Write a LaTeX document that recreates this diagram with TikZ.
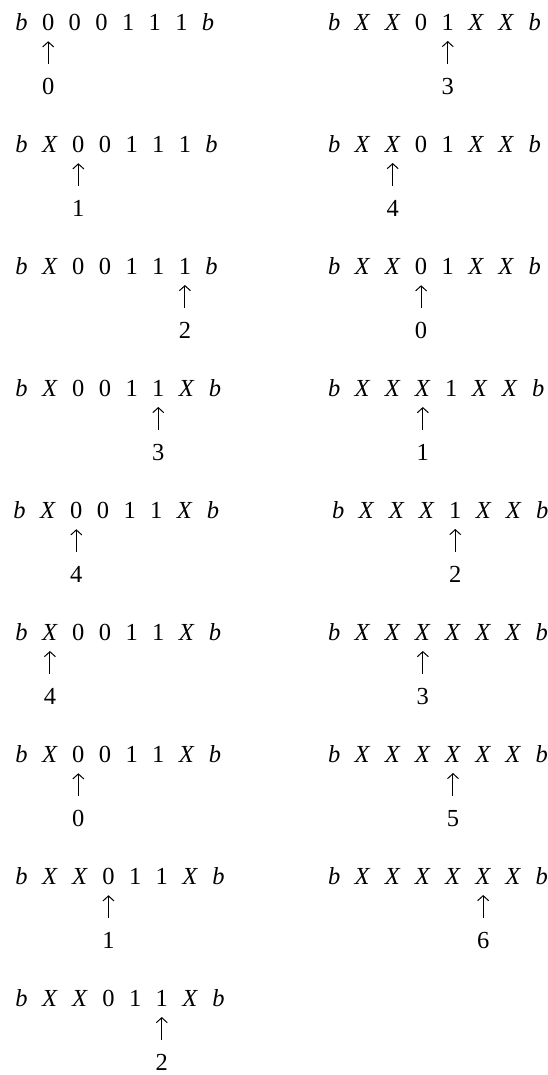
\documentclass[tikz,border=0pt]{standalone}
\usepackage{fontspec}
\setmainfont{Liberation Serif}
\usetikzlibrary{arrows.meta}
\newcommand\Bk{\textit{b}}
\newcommand\Xk{\textit{X}}
\tikzset{
  tmfont/.style={font=\fontsize{24.5bp}{30bp}\selectfont},
  cell/.style={tmfont, inner sep=0pt, outer sep=0pt, anchor=base west},
  num/.style={tmfont, inner sep=0pt, outer sep=0pt, anchor=base},
  ptr/.style={line width=1bp, -{Straight Barb[length=5bp,width=11bp]}, shorten >=11bp, shorten <=14bp}
}
% name, x, y(baseline), symbols, head index, state
\newcommand\tmrow[6]{%
  \foreach \c [count=\i] in {#4} {
    \ifnum\i=1
      \node[cell] (#1-1) at (#2,#3) {\c};
    \else
      \pgfmathtruncatemacro\p{\i-1}
      \node[cell] (#1-\i) at ([xshift=14.4bp]#1-\p.base east) {\c};
    \fi
  }
  \node[num] (#1-s) at ([yshift=-64bp]#1-#5.base) {#6};
  \draw[ptr] (#1-s) -- (#1-#5);
}
\begin{document}
\begin{tikzpicture}[x=1bp,y=-1bp]
\useasboundingbox (0,0) rectangle (548,1075);
% left column
\tmrow{L1}{15.4}{30}{\Bk,0,0,0,1,1,1,\Bk}{2}{0}
\tmrow{L2}{15.4}{152}{\Bk,\Xk,0,0,1,1,1,\Bk}{3}{1}
\tmrow{L3}{15.4}{274}{\Bk,\Xk,0,0,1,1,1,\Bk}{7}{2}
\tmrow{L4}{15.4}{396}{\Bk,\Xk,0,0,1,1,\Xk,\Bk}{6}{3}
\tmrow{L5}{13.4}{518}{\Bk,\Xk,0,0,1,1,\Xk,\Bk}{3}{4}
\tmrow{L6}{15.4}{640}{\Bk,\Xk,0,0,1,1,\Xk,\Bk}{2}{4}
\tmrow{L7}{15.4}{762}{\Bk,\Xk,0,0,1,1,\Xk,\Bk}{3}{0}
\tmrow{L8}{15.4}{884}{\Bk,\Xk,\Xk,0,1,1,\Xk,\Bk}{4}{1}
\tmrow{L9}{15.4}{1006}{\Bk,\Xk,\Xk,0,1,1,\Xk,\Bk}{6}{2}
% right column
\tmrow{R1}{328}{30}{\Bk,\Xk,\Xk,0,1,\Xk,\Xk,\Bk}{5}{3}
\tmrow{R2}{328}{152}{\Bk,\Xk,\Xk,0,1,\Xk,\Xk,\Bk}{3}{4}
\tmrow{R3}{328}{274}{\Bk,\Xk,\Xk,0,1,\Xk,\Xk,\Bk}{4}{0}
\tmrow{R4}{328}{396}{\Bk,\Xk,\Xk,\Xk,1,\Xk,\Xk,\Bk}{4}{1}
\tmrow{R5}{332}{518}{\Bk,\Xk,\Xk,\Xk,1,\Xk,\Xk,\Bk}{5}{2}
\tmrow{R6}{328}{640}{\Bk,\Xk,\Xk,\Xk,\Xk,\Xk,\Xk,\Bk}{4}{3}
\tmrow{R7}{328}{762}{\Bk,\Xk,\Xk,\Xk,\Xk,\Xk,\Xk,\Bk}{5}{5}
\tmrow{R8}{328}{884}{\Bk,\Xk,\Xk,\Xk,\Xk,\Xk,\Xk,\Bk}{6}{6}
\end{tikzpicture}
\end{document}
